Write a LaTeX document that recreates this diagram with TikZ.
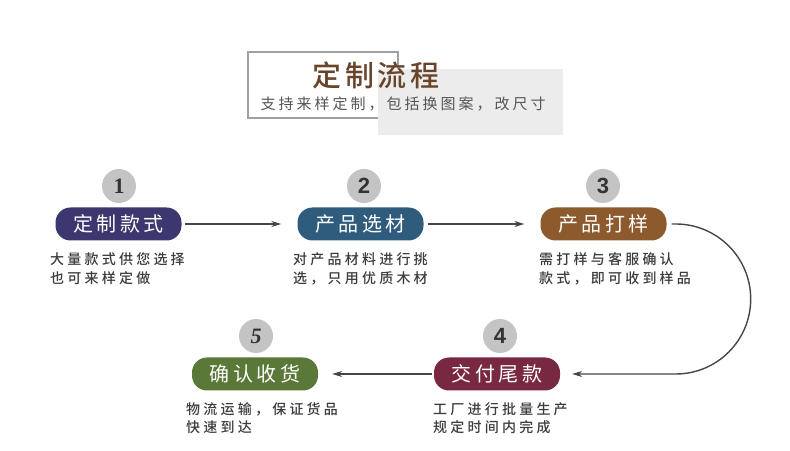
\documentclass[tikz,border=0pt]{standalone}
\usepackage{fontspec}
\usetikzlibrary{arrows.meta}
\newfontfamily\cjk{Noto Sans CJK SC}
\newfontfamily\cjktitle[LetterSpace=12,UprightFont={* Medium}]{Noto Sans CJK SC}
\newfontfamily\cjksub[LetterSpace=20]{Noto Sans CJK SC}
\newfontfamily\cjkpill[LetterSpace=18]{Noto Sans CJK SC}
\newfontfamily\cjkdesc[LetterSpace=23,UprightFont={* Medium}]{Noto Sans CJK SC}
\newfontfamily\numserif{Liberation Serif}
\newfontfamily\numsans{Liberation Sans}
\definecolor{cpurple}{RGB}{60,55,110}
\definecolor{cblue}{RGB}{47,92,125}
\definecolor{cbrown}{RGB}{140,90,45}
\definecolor{cmaroon}{RGB}{120,40,65}
\definecolor{cgreen}{RGB}{90,120,55}
\definecolor{cnum}{RGB}{196,196,196}
\definecolor{ctitle}{RGB}{105,68,42}
\definecolor{csub}{RGB}{85,85,85}
\definecolor{cdesc}{RGB}{60,60,60}
\definecolor{cline}{RGB}{70,70,70}
\definecolor{cbox}{RGB}{160,160,160}
\definecolor{cgraybox}{RGB}{236,236,236}
\tikzset{
  pill/.style={rectangle, rounded corners=15pt, minimum width=126pt, minimum height=33pt,
    inner sep=0pt, text=white, font=\cjkpill\fontsize{20}{24}\selectfont},
  numc/.style={circle, fill=cnum, minimum size=34pt, inner sep=0pt, text=black!80,
    font=\bfseries\fontsize{22}{24}\selectfont},
  desc/.style={anchor=west, inner sep=0pt, text=cdesc, font=\cjkdesc\fontsize{14}{17}\selectfont},
  arr/.style={draw=cline, line width=1.4pt, -{Stealth[length=10pt,width=6pt]}}
}
\begin{document}
\begin{tikzpicture}[x=1pt,y=1pt]
\useasboundingbox (0,0) rectangle (790,450);
\fill[white] (0,0) rectangle (790,450);
% title block
\draw[cbox, line width=1.5pt] (248,398) rectangle (398,332);
\fill[cgraybox] (378,381) rectangle (563,315);
\node[inner sep=0pt, text=ctitle, font=\cjktitle\fontsize{29}{32}\selectfont] (title) at (376,375) {定制流程};
\node[inner sep=0pt, text=csub, font=\cjksub\fontsize{15}{18}\selectfont] (sub) at (403,346) {支持来样定制，包括换图案，改尺寸};
% numbers
\node[numc] (n1) at (119,264) {\numserif\bfseries 1};
\node[numc] (n2) at (364,264) {\numsans\bfseries 2};
\node[numc] (n3) at (603,264) {\numsans\bfseries 3};
\node[numc] (n4) at (500,114) {\numsans\bfseries 4};
\node[numc] (n5) at (256,114) {\numserif\bfseries\itshape 5};
% pills
\node[pill, fill=cpurple] (p1) at (118.5,226) {定制款式};
\node[pill, fill=cblue] (p2) at (360.5,226) {产品选材};
\node[pill, fill=cbrown] (p3) at (603.5,226) {产品打样};
\node[pill, fill=cmaroon] (p4) at (497,76) {交付尾款};
\node[pill, fill=cgreen] (p5) at (255,76) {确认收货};
% descriptions
\node[desc] (d1a) at (50,191) {大量款式供您选择};
\node[desc] (d1b) at (50,172) {也可来样定做};
\node[desc] (d2a) at (293,191) {对产品材料进行挑};
\node[desc] (d2b) at (293,172) {选，只用优质木材};
\node[desc] (d3a) at (539,191) {需打样与客服确认};
\node[desc] (d3b) at (539,172) {款式，即可收到样品};
\node[desc] (d4a) at (433,41) {工厂进行批量生产};
\node[desc] (d4b) at (433,23) {规定时间内完成};
\node[desc] (d5a) at (186,41) {物流运输，保证货品};
\node[desc] (d5b) at (186,23) {快速到达};
% connectors
\draw[arr, shorten <=3pt, shorten >=16pt] (p1) -- (p2);
\draw[arr, shorten <=4pt, shorten >=16pt] (p2) -- (p3);
\draw[arr] ([xshift=5pt]p3.east) -- ++(4,0) arc[start angle=90, end angle=-90, radius=75] -- ([xshift=12pt]p4.east);
\draw[arr, shorten <=2pt, shorten >=14pt] (p4) -- (p5);
\end{tikzpicture}
\end{document}
